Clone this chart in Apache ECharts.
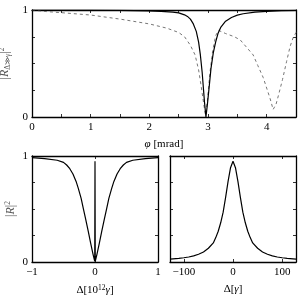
<!DOCTYPE html>
<html><head><meta charset="utf-8">
<script src="https://cdn.jsdelivr.net/npm/echarts@6/dist/echarts.min.js"></script>
<style>html,body{margin:0;padding:0;background:#fff}#c{width:303px;height:299px}</style>
</head><body><div id="c"></div>
<script>
// Top panel: solid curve
const phiSolid = [0, 0.5, 1.0, 1.5, 2.0, 2.2, 2.4, 2.5, 2.6, 2.65, 2.7, 2.75, 2.8, 2.84, 2.87, 2.9, 2.92, 2.94, 2.965, 2.99, 3.02, 3.05, 3.09, 3.13, 3.17, 3.22, 3.3, 3.4, 3.5, 3.6, 3.8, 4.0, 4.25, 4.5];
const rSolid   = [1.0, 0.999, 0.998, 0.996, 0.992, 0.988, 0.98, 0.973, 0.955, 0.94, 0.915, 0.87, 0.8, 0.7, 0.58, 0.42, 0.28, 0.14, 0.0, 0.12, 0.28, 0.45, 0.6, 0.7, 0.78, 0.84, 0.895, 0.93, 0.952, 0.965, 0.98, 0.988, 0.993, 0.996];
// Top panel: dashed curve
const phiDash = [0, 0.25, 0.5, 1.0, 1.5, 2.0, 2.3, 2.5, 2.6, 2.7, 2.78, 2.84, 2.88, 2.92, 2.955, 2.99, 3.03, 3.08, 3.13, 3.18, 3.3, 3.45, 3.55, 3.66, 3.77, 3.85, 3.94, 4.0, 4.06, 4.11, 4.16, 4.2, 4.27, 4.34, 4.4, 4.45, 4.5];
const rDash   = [1.0, 0.985, 0.975, 0.953, 0.915, 0.87, 0.83, 0.79, 0.75, 0.67, 0.58, 0.44, 0.3, 0.15, 0.02, 0.15, 0.4, 0.62, 0.76, 0.81, 0.78, 0.75, 0.72, 0.65, 0.58, 0.48, 0.37, 0.27, 0.17, 0.07, 0.12, 0.2, 0.35, 0.52, 0.66, 0.74, 0.79];
// Bottom-left panel
const deltaL = [-1, -0.8, -0.6, -0.5, -0.45, -0.4, -0.35, -0.3, -0.265, -0.22, -0.186, -0.15, -0.106, -0.07, -0.03, -0.004, 0, 0.004, 0.03, 0.07, 0.106, 0.15, 0.186, 0.22, 0.265, 0.3, 0.35, 0.4, 0.45, 0.5, 0.6, 0.8, 1];
const rL     = [0.985, 0.975, 0.96, 0.94, 0.915, 0.88, 0.83, 0.76, 0.695, 0.6, 0.507, 0.41, 0.286, 0.18, 0.07, 0.005, 0.95, 0.005, 0.07, 0.18, 0.286, 0.41, 0.507, 0.6, 0.695, 0.76, 0.83, 0.88, 0.915, 0.94, 0.96, 0.975, 0.985];
// Bottom-right panel
const deltaR = [-128, -110, -100, -90, -80, -70, -60, -50, -40, -35, -30, -25, -20, -15, -10, -5, 0, 5, 10, 15, 20, 25, 30, 35, 40, 50, 60, 70, 80, 90, 100, 110, 128];
const rR     = [0.027, 0.035, 0.04, 0.047, 0.058, 0.073, 0.095, 0.13, 0.18, 0.23, 0.29, 0.37, 0.47, 0.61, 0.76, 0.89, 0.95, 0.89, 0.76, 0.61, 0.47, 0.37, 0.29, 0.23, 0.18, 0.13, 0.095, 0.073, 0.058, 0.047, 0.04, 0.035, 0.027];

const zip = (a, b) => a.map((v, i) => [v, b[i]]);
const FONT = 'Liberation Serif';
const FS = 11;
const minus = v => String(v).replace('-', '\u2212');
const AXLINE = {show: true, onZero: false, lineStyle: {color: '#000', width: 1.3}};
const tick = extra => Object.assign({show: true, inside: true, length: 3, lineStyle: {color: '#000', width: 0.8}}, extra || {});

function xAxisPair(gi, min, max, interval, labelFmt, name, customValues) {
  const base = {
    type: 'value', gridIndex: gi, min, max,
    axisLine: AXLINE, splitLine: {show: false},
    axisTick: tick(customValues ? {customValues} : null)
  };
  if (interval) base.interval = interval;
  const lbl = {show: true, color: '#000', fontFamily: FONT, fontSize: FS, margin: 5, formatter: labelFmt};
  if (customValues) lbl.customValues = customValues;
  const bottom = Object.assign({}, base, {
    position: 'bottom', axisLabel: lbl,
    name, nameLocation: 'middle', nameGap: 22,
    nameTextStyle: {color: '#000', fontFamily: FONT, fontSize: FS,
      rich: {sup: {fontSize: 7.5, verticalAlign: 'top', fontFamily: FONT, color: '#000', padding: [0,0,4,0]},
             n: {fontSize: FS, fontFamily: FONT, color: '#000'},
             i: {fontSize: FS, fontFamily: FONT, color: '#000', fontStyle: 'italic'}}}
  });
  const top = Object.assign({}, base, {position: 'top', axisLabel: {show: false}});
  return [bottom, top];
}
function yAxisPair(gi, showLabels, name, nameGap) {
  const base = {
    type: 'value', gridIndex: gi, min: 0, max: 1, interval: 0.25,
    axisLine: AXLINE, axisTick: tick(), splitLine: {show: false}
  };
  const left = Object.assign({}, base, {
    position: 'left',
    axisLabel: {show: showLabels, color: '#000', fontFamily: FONT, fontSize: FS, margin: 4,
      formatter: v => (v === 0 || v === 1) ? String(v) : ''},
    name: name || '', nameLocation: 'middle', nameGap: nameGap || 15, nameRotate: 90,
    nameTextStyle: {color: '#555', fontFamily: FONT, fontSize: 12,
      rich: {sub: {fontSize: 7.5, fontFamily: FONT, color: '#555', verticalAlign: 'bottom', padding: [5,0,0,0]},
             sup: {fontSize: 7.5, fontFamily: FONT, color: '#555', verticalAlign: 'top', padding: [0,0,6,0]},
             i: {fontSize: 12, fontFamily: FONT, fontStyle: 'italic', color: '#555'}}}
  });
  const right = Object.assign({}, base, {position: 'right', axisLabel: {show: false}});
  return [left, right];
}

const xs = [
  ...xAxisPair(0, 0, 4.5, 0.5, v => Number.isInteger(v) ? String(v) : '', '{i|\u03c6} [mrad]'),
  ...xAxisPair(1, -1, 1, 1, v => minus(v), '{n|\u0394[10}{sup|12}{i|\u03b3}{n|]}'),
  ...xAxisPair(2, -128, 128, null, v => minus(v), '\u0394[{i|\u03b3}]', [-100, 0, 100])
];

const ys = [
  ...yAxisPair(0, true, '|{i|R}{sub|\u0394\u226b\u03b3}|{sup|2}', 20),
  ...yAxisPair(1, true, '|{i|R}|{sup|2}', 14),
  ...yAxisPair(2, false, '', 10)
];

const line = (xi, yi, data, style) => ({
  type: 'line', xAxisIndex: xi, yAxisIndex: yi, data, showSymbol: false, symbol: 'none',
  smooth: false, clip: true, lineStyle: style, animation: false, z: 3
});

const chart = echarts.init(document.getElementById('c'), null, {renderer: 'canvas'});
chart.setOption({
  animation: false,
  backgroundColor: '#fff',
  grid: [
    {left: 32, top: 10, width: 264, height: 107, containLabel: false, outerBoundsMode: 'none'},
    {left: 32, top: 156, width: 126, height: 106, containLabel: false, outerBoundsMode: 'none'},
    {left: 170, top: 156, width: 126, height: 106, containLabel: false, outerBoundsMode: 'none'}
  ],
  xAxis: xs,
  yAxis: ys,
  series: [
    line(0, 0, zip(phiDash, rDash), {color: '#666', width: 0.9, type: [3, 3]}),
    line(0, 0, zip(phiSolid, rSolid), {color: '#000', width: 1.2}),
    line(2, 2, zip(deltaL, rL), {color: '#000', width: 1.2}),
    line(4, 4, zip(deltaR, rR), {color: '#000', width: 1.2})
  ]
});
</script></body></html>
